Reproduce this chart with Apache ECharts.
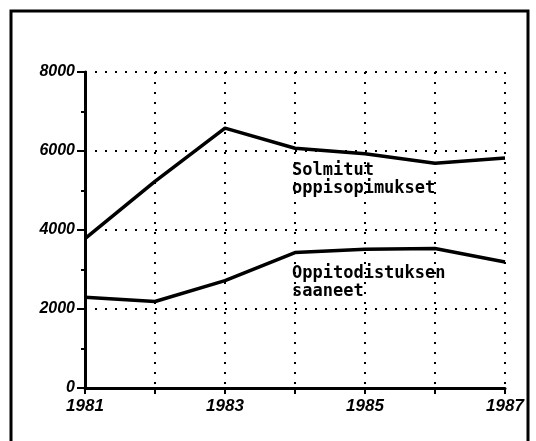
<!DOCTYPE html>
<html>
<head>
<meta charset="utf-8">
<script src="https://cdn.jsdelivr.net/npm/echarts@6/dist/echarts.min.js"></script>
<style>html,body{margin:0;padding:0;background:#fff}#c{width:536px;height:441px}</style>
</head>
<body>
<div id="c"></div>
<script>
var years = ['1981','1982','1983','1984','1985','1986','1987'];
var solmitut = [3780, 5230, 6580, 6070, 5930, 5690, 5820];
var oppitodistus = [2300, 2190, 2720, 3430, 3510, 3530, 3190];
var labelSolmitut = 'Solmitut\noppisopimukset';
var labelOppi = 'Oppitodistuksen\nsaaneet';

var chart = echarts.init(document.getElementById('c'), null, {renderer: 'canvas'});
var axisFont = {fontFamily: 'Liberation Sans', fontWeight: 'bold', fontStyle: 'italic', color: '#000'};
var noteFont = {fontFamily: 'DejaVu Sans Mono', fontWeight: 'bold', fontSize: 17, lineHeight: 18, fill: '#000'};
chart.setOption({
  animation: false,
  backgroundColor: '#fff',
  grid: {left: 85, right: 31, top: 72, bottom: 53},
  xAxis: {
    type: 'category',
    data: years,
    boundaryGap: false,
    axisLine: {lineStyle: {color: '#000', width: 3}},
    axisTick: {show: true, length: 6, inside: false, interval: 0, lineStyle: {color: '#000', width: 2}},
    axisLabel: Object.assign({interval: 1, fontSize: 17, margin: 10}, axisFont),
    splitLine: {show: true, interval: 0, lineStyle: {color: '#000', width: 2, type: [2, 8]}}
  },
  yAxis: {
    type: 'value',
    min: 0, max: 8000, interval: 2000,
    axisLine: {show: true, lineStyle: {color: '#000', width: 3}},
    axisTick: {show: true, length: 8, lineStyle: {color: '#000', width: 2}},
    minorTick: {show: true, splitNumber: 2, length: 4, lineStyle: {color: '#000', width: 2}},
    axisLabel: Object.assign({fontSize: 16, margin: 10, formatter: function (v) { return String(v); }}, axisFont),
    splitLine: {show: true, lineStyle: {color: '#000', width: 2, type: [2, 8]}}
  },
  series: [
    {type: 'line', data: solmitut, symbol: 'none', lineStyle: {color: '#000', width: 3.5}, z: 5},
    {type: 'line', data: oppitodistus, symbol: 'none', lineStyle: {color: '#000', width: 3.5}, z: 5}
  ],
  graphic: [
    {type: 'rect', shape: {x: 11, y: 11, width: 517, height: 440}, style: {fill: 'none', stroke: '#000', lineWidth: 3}, silent: true},
    {type: 'text', left: 292, top: 162, style: Object.assign({text: labelSolmitut}, noteFont)},
    {type: 'text', left: 292, top: 265, style: Object.assign({text: labelOppi}, noteFont)}
  ]
});
</script>
</body>
</html>
